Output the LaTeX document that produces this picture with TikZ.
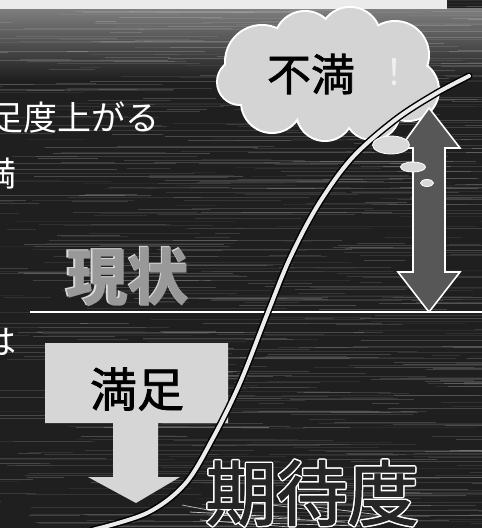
\documentclass[tikz,border=0pt]{standalone}
\usepackage{fontspec}
\usetikzlibrary{shapes.geometric}
\newfontfamily\jp{Noto Sans CJK JP}
\newfontfamily\jpm[FakeBold=1.6]{Noto Sans CJK JP}
\tikzset{
  jtext/.style={font=\jp, inner sep=0pt},
  cloudpart/.style={fill=black!17},
  bubble/.style={fill=black!15, draw=white, line width=0.8pt},
  grayarrow/.style={fill=black!16},
  darkarrow/.style={fill=black!66, draw=white, line width=1.6pt, line join=miter},
}
\begin{document}
\begin{tikzpicture}[x=1pt,y=-1pt]
\useasboundingbox (0,0) rectangle (482,528);
\clip (0,0) rectangle (482,528);
% background
\fill[black!88] (0,0) rectangle (482,528);
\shade[top color=black!50, bottom color=black!88] (0,8) rectangle (482,80);
\pgfmathsetseed{11}
\foreach \k in {1,...,700}{
  \pgfmathsetmacro{\yy}{rnd*528}
  \pgfmathsetmacro{\xx}{rnd*520-40}
  \pgfmathsetmacro{\ll}{20+rnd*200}
  \pgfmathsetmacro{\op}{0.04+rnd*0.15}
  \draw[white, opacity=\op, line width=0.6pt] (\xx,\yy) -- ++(\ll,0);
}
% top banner
\fill[black!8] (0,0) rectangle (447,9);
% left partial texts
\node[jtext, text=white, anchor=east, font=\jp\fontsize{34}{34}\selectfont] (t1) at (160,118) {満足度上がる};
\node[jtext, text=white, font=\jp\fontsize{34}{34}\selectfont] (t2) at (0,174) {満};
\node[jtext, text=white, font=\jp\fontsize{34}{34}\selectfont] (t3) at (0,342) {は};
% cloud
\foreach \cx/\cy/\r in {262/62/36, 305/42/30, 350/38/30, 395/55/33, 408/90/30, 372/112/27, 325/112/28, 272/102/30, 240/82/22}{
  \fill[white] (\cx,\cy) circle (\r+2);
}
\foreach \cx/\cy/\r in {262/62/36, 305/42/30, 350/38/30, 395/55/33, 408/90/30, 372/112/27, 325/112/28, 272/102/30, 240/82/22}{
  \fill[cloudpart] (\cx,\cy) circle (\r);
}
\fill[cloudpart] (322,78) ellipse (85 and 38);
\node[jtext, text=black, font=\jpm\fontsize{44}{44}\selectfont] (fuman) at (311,74) {不満};
\node[jtext, text=black!6, font=\jp\fontsize{36}{36}\selectfont] (excl) at (394,72) {！};
% double arrow
\draw[darkarrow] (429,108) -- (460,148) -- (445,148) -- (445,272) -- (460,272) -- (429,312)
  -- (398,272) -- (413,272) -- (413,148) -- (400,148) -- cycle;
% horizontal line
\coordinate (hl) at (30,312);
\coordinate (hr) at (482,312);
\draw[white, line width=2.8pt] (hl) -- (hr);
% genjo
\node[jtext, text=white!85!black, font=\jp\bfseries\fontsize{62}{62}\selectfont] (genjo0) at (126.8,275.8) {現状};
\node[jtext, text=black!40, font=\jp\bfseries\fontsize{62}{62}\selectfont] (genjo) at (128,277) {現状};
% manzoku arrow
\fill[grayarrow] (45,343) -- (228,343) -- (228,423) -- (158,423) -- (158,477) -- (180,477)
  -- (136,503) -- (88,477) -- (113,477) -- (113,423) -- (45,423) -- cycle;
\node[jtext, text=black, font=\jpm\fontsize{47}{47}\selectfont] (manzoku) at (137,389) {満足};
% S-curve
\draw[black, line width=7pt, line cap=round] plot[smooth, tension=0.55] coordinates
  {(92,530) (147,513) (185,484) (213,438) (240,383) (268,312) (290,258) (318,205) (352,158) (395,120) (435,94) (469,76)};
\draw[white!92!black, line width=4pt, line cap=round] plot[smooth, tension=0.55] coordinates
  {(92,530) (147,513) (185,484) (213,438) (240,383) (268,312) (290,258) (318,205) (352,158) (395,120) (435,94) (469,76)};
% thought bubbles
\node[bubble, ellipse, minimum width=37pt, minimum height=18pt, inner sep=0pt] (b1) at (391,145) {};
\node[bubble, ellipse, minimum width=25pt, minimum height=10pt, inner sep=0pt] (b2) at (413,167) {};
\node[bubble, ellipse, minimum width=13pt, minimum height=7pt, inner sep=0pt] (b3) at (427,183) {};
% kitaido reflection streaks
\foreach \a/\b/\c/\d in {182/505/260/520, 190/512/300/518, 200/520/290/527, 230/500/330/512, 215/515/345/522, 300/505/380/515, 260/523/360/526}{
  \draw[white, opacity=0.7, line width=0.7pt] (\a,\b) -- (\c,\d);
}
% kitaido outlined text
\foreach \dx/\dy in {1.5/0, -1.5/0, 0/1.5, 0/-1.5, 1.1/1.1, 1.1/-1.1, -1.1/1.1, -1.1/-1.1}{
  \node[jtext, text=white, font=\jpm\fontsize{71}{71}\selectfont] at (312+\dx,493+\dy) {期待度};
}
\node[jtext, text=black!85, font=\jpm\fontsize{71}{71}\selectfont] (kitaido) at (312,493) {期待度};
\end{tikzpicture}
\end{document}
